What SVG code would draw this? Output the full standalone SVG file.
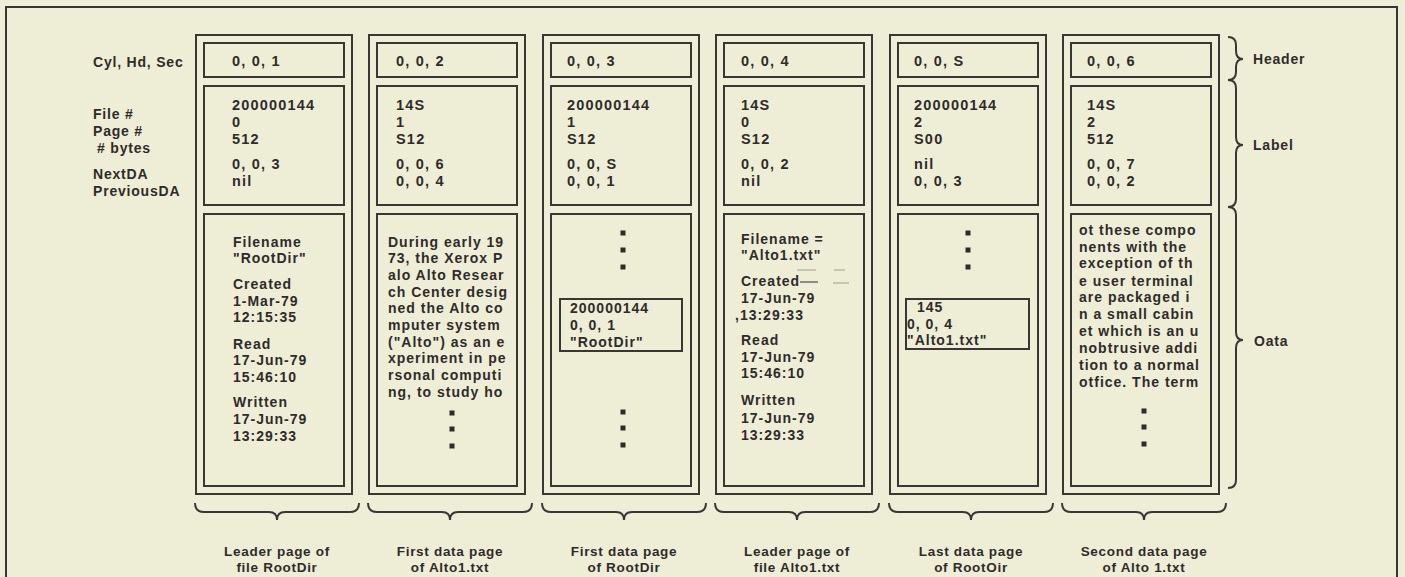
<svg xmlns="http://www.w3.org/2000/svg" width="1405" height="577" viewBox="0 0 1405 577">
<style>
.bg{fill:#eeeed6}
.frame{fill:none;stroke:#3a3636;stroke-width:2}
.col{fill:none;stroke:#3a3636;stroke-width:2}
.box{fill:none;stroke:#3a3636;stroke-width:2}
text{font-family:"Liberation Sans",Arial,sans-serif;font-weight:bold;fill:#2e2b2b}
.v{font-size:14.5px;letter-spacing:1.2px}
.d{font-size:14px;letter-spacing:1px}
.l{font-size:14px;letter-spacing:0.8px}
.cap{font-size:13.5px;letter-spacing:0.7px;text-anchor:middle}
.dot{fill:#2e2b2b}
.brace{fill:none;stroke:#3a3636;stroke-width:2}
.smudge{stroke:#b9b8a8;stroke-width:1.5}
</style>
<rect class="bg" x="0" y="0" width="1405" height="577"/>
<rect class="frame" x="6" y="7" width="1391" height="580"/>

<g id="row-labels">
<text class="l" x="93" y="67">Cyl, Hd, Sec</text>
<text class="l" x="93" y="119">File #</text>
<text class="l" x="93" y="136">Page #</text>
<text class="l" x="97" y="153"># bytes</text>
<text class="l" x="93" y="179">NextDA</text>
<text class="l" x="93" y="196">PreviousDA</text>
</g>

<g id="page1">
<rect class="col" x="196" y="35" width="156" height="459"/>
<rect class="box" x="204" y="43" width="140" height="34"/>
<rect class="box" x="204" y="86" width="140" height="119"/>
<rect class="box" x="204" y="214" width="140" height="272"/>
<text class="v" x="232" y="66">0, 0, 1</text>
<text class="v" x="232" y="110">200000144</text>
<text class="v" x="232" y="127">0</text>
<text class="v" x="232" y="144">512</text>
<text class="v" x="232" y="169">0, 0, 3</text>
<text class="v" x="232" y="186">nil</text>
<text class="d" x="233" y="247">Filename</text>
<text class="d" x="233" y="263">"RootDir"</text>
<text class="d" x="233" y="289">Created</text>
<text class="d" x="233" y="306">1-Mar-79</text>
<text class="d" x="233" y="322">12:15:35</text>
<text class="d" x="233" y="349">Read</text>
<text class="d" x="233" y="365">17-Jun-79</text>
<text class="d" x="233" y="382">15:46:10</text>
<text class="d" x="233" y="407">Written</text>
<text class="d" x="233" y="424">17-Jun-79</text>
<text class="d" x="233" y="441">13:29:33</text>
</g>

<g id="page2">
<rect class="col" x="369" y="35" width="156" height="459"/>
<rect class="box" x="377" y="43" width="140" height="34"/>
<rect class="box" x="377" y="86" width="140" height="119"/>
<rect class="box" x="377" y="214" width="140" height="272"/>
<text class="v" x="396" y="66">0, 0, 2</text>
<text class="v" x="396" y="110">14S</text>
<text class="v" x="396" y="127">1</text>
<text class="v" x="396" y="144">S12</text>
<text class="v" x="396" y="169">0, 0, 6</text>
<text class="v" x="396" y="186">0, 0, 4</text>
<text class="d" x="388" y="247">During early 19</text>
<text class="d" x="388" y="263">73, the Xerox P</text>
<text class="d" x="388" y="280">alo Alto Resear</text>
<text class="d" x="388" y="297">ch Center desig</text>
<text class="d" x="388" y="313">ned the Alto co</text>
<text class="d" x="388" y="330">mputer system</text>
<text class="d" x="388" y="347">("Alto") as an e</text>
<text class="d" x="388" y="363">xperiment in pe</text>
<text class="d" x="388" y="380">rsonal computi</text>
<text class="d" x="388" y="397">ng, to study ho</text>
<rect class="dot" x="449.5" y="410.5" width="5" height="5"/>
<rect class="dot" x="449.5" y="426.5" width="5" height="5"/>
<rect class="dot" x="449.5" y="443.5" width="5" height="5"/>
</g>

<g id="page3">
<rect class="col" x="543" y="35" width="156" height="459"/>
<rect class="box" x="551" y="43" width="140" height="34"/>
<rect class="box" x="551" y="86" width="140" height="119"/>
<rect class="box" x="551" y="214" width="140" height="272"/>
<text class="v" x="567" y="66">0, 0, 3</text>
<text class="v" x="567" y="110">200000144</text>
<text class="v" x="567" y="127">1</text>
<text class="v" x="567" y="144">S12</text>
<text class="v" x="567" y="169">0, 0, S</text>
<text class="v" x="567" y="186">0, 0, 1</text>
<rect class="dot" x="620.5" y="230.5" width="5" height="5"/>
<rect class="dot" x="620.5" y="247.5" width="5" height="5"/>
<rect class="dot" x="620.5" y="264.5" width="5" height="5"/>
<rect class="box" x="560" y="299" width="122" height="52"/>
<text class="d" x="570" y="313">200000144</text>
<text class="d" x="570" y="330">0, 0, 1</text>
<text class="d" x="570" y="347">"RootDir"</text>
<rect class="dot" x="620.5" y="409.5" width="5" height="5"/>
<rect class="dot" x="620.5" y="425.5" width="5" height="5"/>
<rect class="dot" x="620.5" y="442.5" width="5" height="5"/>
</g>

<g id="page4">
<rect class="col" x="716" y="35" width="156" height="459"/>
<rect class="box" x="724" y="43" width="140" height="34"/>
<rect class="box" x="724" y="86" width="140" height="119"/>
<rect class="box" x="724" y="214" width="140" height="272"/>
<text class="v" x="741" y="66">0, 0, 4</text>
<text class="v" x="741" y="110">14S</text>
<text class="v" x="741" y="127">0</text>
<text class="v" x="741" y="144">S12</text>
<text class="v" x="741" y="169">0, 0, 2</text>
<text class="v" x="741" y="186">nil</text>
<text class="d" x="741" y="244">Filename =</text>
<text class="d" x="741" y="260">"Alto1.txt"</text>
<line class="smudge" x1="797" y1="270" x2="816" y2="270"/>
<line class="smudge" x1="834" y1="270" x2="845" y2="270"/>
<text class="d" x="741" y="286">Created</text>
<line x1="800" y1="282" x2="818" y2="282" stroke="#6d6a66" stroke-width="1.5"/>
<line class="smudge" x1="833" y1="283" x2="849" y2="283"/>
<text class="d" x="741" y="303">17-Jun-79</text>
<text class="d" x="735" y="320">,13:29:33</text>
<text class="d" x="741" y="345">Read</text>
<text class="d" x="741" y="362">17-Jun-79</text>
<text class="d" x="741" y="378">15:46:10</text>
<text class="d" x="741" y="405">Written</text>
<text class="d" x="741" y="423">17-Jun-79</text>
<text class="d" x="741" y="440">13:29:33</text>
</g>

<g id="page5">
<rect class="col" x="890" y="35" width="156" height="459"/>
<rect class="box" x="898" y="43" width="140" height="34"/>
<rect class="box" x="898" y="86" width="140" height="119"/>
<rect class="box" x="898" y="214" width="140" height="272"/>
<text class="v" x="914" y="66">0, 0, S</text>
<text class="v" x="914" y="110">200000144</text>
<text class="v" x="914" y="127">2</text>
<text class="v" x="914" y="144">S00</text>
<text class="v" x="914" y="169">nil</text>
<text class="v" x="914" y="186">0, 0, 3</text>
<rect class="dot" x="965.5" y="230.5" width="5" height="5"/>
<rect class="dot" x="965.5" y="247.5" width="5" height="5"/>
<rect class="dot" x="965.5" y="264.5" width="5" height="5"/>
<rect class="box" x="906" y="299" width="123" height="50"/>
<text class="d" x="917" y="312">145</text>
<text class="d" x="907" y="329">0, 0, 4</text>
<text class="d" x="907" y="345">"Alto1.txt"</text>
</g>

<g id="page6">
<rect class="col" x="1063" y="35" width="156" height="459"/>
<rect class="box" x="1071" y="43" width="140" height="34"/>
<rect class="box" x="1071" y="86" width="140" height="119"/>
<rect class="box" x="1071" y="214" width="140" height="272"/>
<text class="v" x="1087" y="66">0, 0, 6</text>
<text class="v" x="1087" y="110">14S</text>
<text class="v" x="1087" y="127">2</text>
<text class="v" x="1087" y="144">512</text>
<text class="v" x="1087" y="169">0, 0, 7</text>
<text class="v" x="1087" y="186">0, 0, 2</text>
<text class="d" x="1079" y="235">ot these compo</text>
<text class="d" x="1079" y="252">nents with the</text>
<text class="d" x="1079" y="268">exception of th</text>
<text class="d" x="1079" y="286">e user terminal</text>
<text class="d" x="1079" y="302">are packaged i</text>
<text class="d" x="1079" y="319">n a small cabin</text>
<text class="d" x="1079" y="336">et which is an u</text>
<text class="d" x="1079" y="353">nobtrusive addi</text>
<text class="d" x="1079" y="370">tion to a normal</text>
<text class="d" x="1079" y="387">otfice.  The term</text>
<rect class="dot" x="1141.5" y="408.5" width="5" height="5"/>
<rect class="dot" x="1141.5" y="424.5" width="5" height="5"/>
<rect class="dot" x="1141.5" y="441.5" width="5" height="5"/>
</g>

<g id="field-braces">
<path class="brace" d="M1228,37 Q1236,37 1236,45 L1236,51 Q1236,59 1243,59 Q1236,59 1236,67 L1236,72 Q1236,80 1228,80"/>
<path class="brace" d="M1228,80 Q1236,80 1236,88 L1236,137 Q1236,145 1243,145 Q1236,145 1236,153 L1236,199 Q1236,207 1228,207"/>
<path class="brace" d="M1228,207 Q1236,207 1236,215 L1236,332 Q1236,340 1243,340 Q1236,340 1236,348 L1236,480 Q1236,488 1228,488"/>
<text class="l" x="1253" y="64">Header</text>
<text class="l" x="1253" y="150">Label</text>
<text class="l" x="1254" y="346">Oata</text>
</g>

<g id="page-braces">
<path class="brace" d="M195,503 Q195,512 204,512 L269,512 Q277,512 277,520 Q277,512 285,512 L350,512 Q359,512 359,503"/>
<path class="brace" d="M368,503 Q368,512 377,512 L442,512 Q450,512 450,520 Q450,512 458,512 L523,512 Q532,512 532,503"/>
<path class="brace" d="M542,503 Q542,512 551,512 L616,512 Q624,512 624,520 Q624,512 632,512 L697,512 Q706,512 706,503"/>
<path class="brace" d="M715,503 Q715,512 724,512 L789,512 Q797,512 797,520 Q797,512 805,512 L870,512 Q879,512 879,503"/>
<path class="brace" d="M889,503 Q889,512 898,512 L963,512 Q971,512 971,520 Q971,512 979,512 L1044,512 Q1053,512 1053,503"/>
<path class="brace" d="M1062,503 Q1062,512 1071,512 L1136,512 Q1144,512 1144,520 Q1144,512 1152,512 L1217,512 Q1226,512 1226,503"/>
<text class="cap" x="277" y="556">Leader page of</text>
<text class="cap" x="277" y="572">file RootDir</text>
<text class="cap" x="450" y="556">First data page</text>
<text class="cap" x="450" y="572">of Alto1.txt</text>
<text class="cap" x="624" y="556">First data page</text>
<text class="cap" x="624" y="572">of RootDir</text>
<text class="cap" x="797" y="556">Leader page of</text>
<text class="cap" x="797" y="572">file Alto1.txt</text>
<text class="cap" x="971" y="556">Last data page</text>
<text class="cap" x="971" y="572">of RootOir</text>
<text class="cap" x="1144" y="556">Second data page</text>
<text class="cap" x="1144" y="572">of Alto 1.txt</text>
</g>
</svg>
